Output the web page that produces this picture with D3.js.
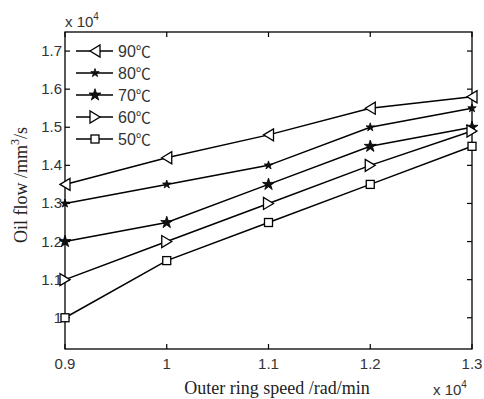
<!DOCTYPE html>
<html><head><meta charset="utf-8">
<script src="https://cdn.jsdelivr.net/npm/d3@7"></script>
<style>body{margin:0;background:#fff}</style>
</head><body>
<svg id="c" width="484" height="399"></svg>
<script>
const speeds = [0.9, 1.0, 1.1, 1.2, 1.3];
const s90 = [1.35, 1.42, 1.48, 1.55, 1.58];
const s80 = [1.30, 1.35, 1.40, 1.50, 1.55];
const s70 = [1.20, 1.25, 1.35, 1.45, 1.50];
const s60 = [1.10, 1.20, 1.30, 1.40, 1.49];
const s50 = [1.00, 1.15, 1.25, 1.35, 1.45];
const seriesNames = ["90", "80", "70", "60", "50"];
const markers = ["triLeft", "smallStar", "star", "triRight", "square"];
const xTicks = [0.9, 1.0, 1.1, 1.2, 1.3];
const xTickLabels = ["0.9", "1", "1.1", "1.2", "1.3"];
const yTicks = [1.0, 1.1, 1.2, 1.3, 1.4, 1.5, 1.6, 1.7];
const yTickLabels = ["1", "1.1", "1.2", "1.3", "1.4", "1.5", "1.6", "1.7"];
const allSeries = [s90, s80, s70, s60, s50];

const svg = d3.select("#c");
const L = 65, R = 472, T = 32, B = 349;
const x = d3.scaleLinear().domain([0.9, 1.3]).range([L, R]);
const y = d3.scaleLinear().domain([0.918, 1.75]).range([B, T]);

function drawMarker(g, type, cx, cy) {
  if (type === "triLeft") {
    g.append("path").attr("d", `M${cx-5},${cy} L${cx+5},${cy-6} L${cx+5},${cy+6} Z`)
      .attr("fill", "#fff").attr("stroke", "#000").attr("stroke-width", 1.3);
  } else if (type === "triRight") {
    g.append("path").attr("d", `M${cx+5},${cy} L${cx-5},${cy-6} L${cx-5},${cy+6} Z`)
      .attr("fill", "#fff").attr("stroke", "#000").attr("stroke-width", 1.3);
  } else if (type === "square") {
    g.append("rect").attr("x", cx-4).attr("y", cy-4).attr("width", 8).attr("height", 8)
      .attr("fill", "#fff").attr("stroke", "#000").attr("stroke-width", 1.3);
  } else if (type === "star") {
    g.append("path").attr("d", d3.symbol().type(d3.symbolStar).size(45)())
      .attr("transform", `translate(${cx},${cy})`).attr("fill", "#111").attr("stroke", "#000").attr("stroke-width", 0.8);
  } else if (type === "smallStar") {
    g.append("path").attr("d", d3.symbol().type(d3.symbolStar).size(22)())
      .attr("transform", `translate(${cx},${cy})`).attr("fill", "#111").attr("stroke", "#000").attr("stroke-width", 0.8);
  }
}

svg.append("rect").attr("x", L).attr("y", T).attr("width", R-L).attr("height", B-T)
  .attr("fill", "none").attr("stroke", "#000").attr("stroke-width", 1.3);

const tickG = svg.append("g").attr("stroke", "#000").attr("stroke-width", 1.2);
xTicks.forEach(t => {
  tickG.append("line").attr("x1", x(t)).attr("x2", x(t)).attr("y1", B).attr("y2", B-5);
  tickG.append("line").attr("x1", x(t)).attr("x2", x(t)).attr("y1", T).attr("y2", T+5);
});
yTicks.forEach(t => {
  tickG.append("line").attr("x1", L).attr("x2", L+5).attr("y1", y(t)).attr("y2", y(t));
  tickG.append("line").attr("x1", R).attr("x2", R-5).attr("y1", y(t)).attr("y2", y(t));
});

const font = "Liberation Sans, Arial, sans-serif";
xTicks.forEach((t, i) => {
  svg.append("text").attr("x", x(t)).attr("y", 369).attr("text-anchor", "middle")
    .attr("font-family", font).attr("font-size", 15).attr("fill", "#333").text(xTickLabels[i]);
});
yTicks.forEach((t, i) => {
  svg.append("text").attr("x", 62).attr("y", y(t) + 5).attr("text-anchor", "end")
    .attr("font-family", font).attr("font-size", 15).attr("fill", "#333").text(yTickLabels[i]);
});

const e1 = svg.append("text").attr("x", 65).attr("y", 27).attr("font-family", font).attr("font-size", 15).attr("fill", "#333");
e1.append("tspan").text("x 10");
e1.append("tspan").attr("dy", -7).attr("font-size", 10).text("4");
const e2 = svg.append("text").attr("x", 433).attr("y", 395).attr("font-family", font).attr("font-size", 15).attr("fill", "#333");
e2.append("tspan").text("x 10");
e2.append("tspan").attr("dy", -7).attr("font-size", 10).text("4");

svg.append("text").attr("x", 277).attr("y", 394).attr("text-anchor", "middle")
  .attr("font-family", "Liberation Serif, Times New Roman, serif").attr("font-size", 18).attr("fill", "#222")
  .text("Outer ring speed /rad/min");
const yl = svg.append("text").attr("transform", "translate(27,185) rotate(-90)").attr("text-anchor", "middle")
  .attr("font-family", "Liberation Serif, Times New Roman, serif").attr("font-size", 18).attr("fill", "#222");
yl.append("tspan").text("Oil flow /mm");
yl.append("tspan").attr("dy", -8).attr("font-size", 12).text("3");
yl.append("tspan").attr("dy", 8).text("/s");

const line = d3.line().x((d, i) => x(speeds[i])).y(d => y(d));
allSeries.forEach((s, k) => {
  svg.append("path").attr("d", line(s)).attr("fill", "none").attr("stroke", "#000").attr("stroke-width", 1.5);
  const g = svg.append("g");
  s.forEach((v, i) => drawMarker(g, markers[k], x(speeds[i]), y(v)));
});

const legY = [51, 73, 95, 117, 139];
seriesNames.forEach((n, k) => {
  svg.append("line").attr("x1", 76).attr("x2", 113).attr("y1", legY[k]).attr("y2", legY[k])
    .attr("stroke", "#000").attr("stroke-width", 1.5);
  drawMarker(svg.append("g"), markers[k], 95, legY[k]);
  const t = svg.append("text").attr("x", 118).attr("y", legY[k] + 6).attr("font-family", font)
    .attr("font-size", 16).attr("fill", "#333");
  t.append("tspan").text(n);
  t.append("tspan").attr("font-family", "Noto Sans CJK SC").attr("font-size", 15).text("℃");
});
</script>
</body></html>
